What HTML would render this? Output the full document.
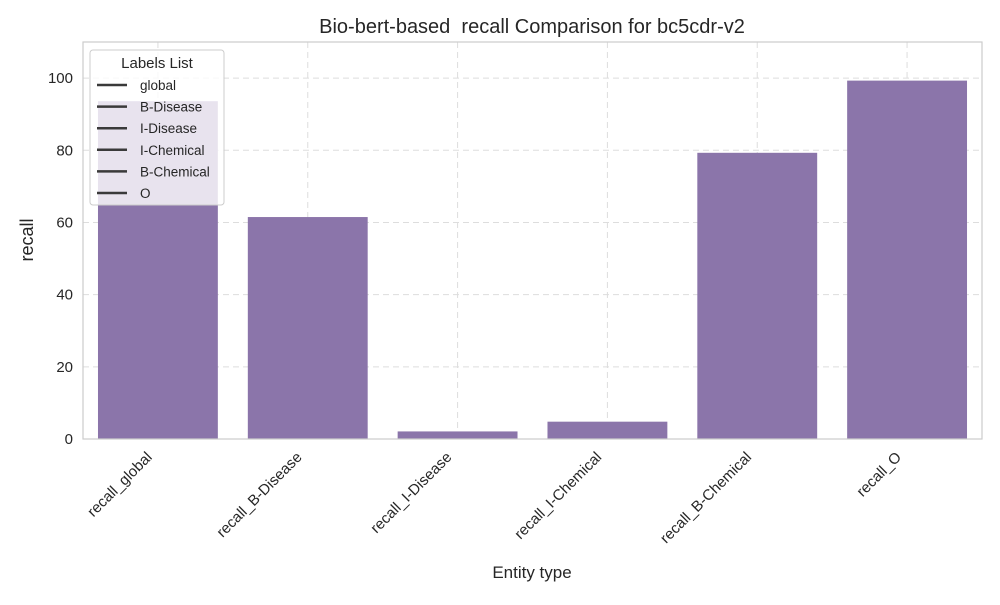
<!DOCTYPE html>
<html><head><meta charset="utf-8"><style>
body{margin:0;background:#fff;font-family:"Liberation Sans",sans-serif;}
svg text{font-family:"Liberation Sans",sans-serif;fill:#262626;}
</style></head><body>
<svg id="chart" width="1000" height="600">
<text x="532" y="33" font-size="20" text-anchor="middle">Bio-bert-based&#160; recall Comparison for bc5cdr-v2</text>
<g id="grid"></g><g id="bars"></g><g id="axes"></g>
<rect x="83" y="42" width="899" height="397" fill="none" stroke="#cccccc" stroke-width="1.2"/>
<text x="532" y="578" font-size="17" text-anchor="middle">Entity type</text>
<text transform="translate(33,240) rotate(-90)" font-size="18" text-anchor="middle">recall</text>
<g id="legend"></g>
</svg>
<script>
const categories=["recall_global","recall_B-Disease","recall_I-Disease","recall_I-Chemical","recall_B-Chemical","recall_O"];
const values=[93.6,61.5,2.1,4.8,79.3,99.3];
const yTicks=[0,20,40,60,80,100];
const legendLabels=["global","B-Disease","I-Disease","I-Chemical","B-Chemical","O"];
const NS="http://www.w3.org/2000/svg";
const L=83,R=982,T=42,B=439,YMAX=110;
const y=v=>B-(v/YMAX)*(B-T);
const band=(R-L)/categories.length;
const xc=i=>L+band*(i+0.5);
function mk(tag,attrs,parent,text){const e=document.createElementNS(NS,tag);for(const k in attrs)e.setAttribute(k,attrs[k]);if(text!==undefined)e.textContent=text;parent.appendChild(e);return e;}
const grid=document.getElementById('grid'),bars=document.getElementById('bars'),axes=document.getElementById('axes'),leg=document.getElementById('legend');
yTicks.forEach(t=>{
 const g=mk('line',{x1:L,x2:R,y1:y(t),y2:y(t),stroke:'#dddddd','stroke-dasharray':'6,4'},grid);
 
 
 const tx=mk('text',{x:L-10,y:y(t)+5,'font-size':15,'text-anchor':'end'},axes,String(t));
 
 
});
categories.forEach((c,i)=>{
 const g=mk('line',{x1:xc(i),x2:xc(i),y1:T,y2:B,stroke:'#dddddd','stroke-dasharray':'6,4'},grid);
 
 
 const w=band*0.8;
 const r=mk('rect',{x:xc(i)-w/2,y:y(values[i]),width:w,height:B-y(values[i]),fill:'#8b75aa'},bars);
 
 
 const ax=xc(i)-5,ay=B+19;
 const tx=mk('text',{x:ax,y:ay,'font-size':15,'text-anchor':'end',transform:`rotate(-45 ${ax} ${ay})`},axes,c);
 
 
});
const bx=mk('rect',{x:90,y:50,width:134,height:155,rx:3,fill:'#ffffff','fill-opacity':0.8,stroke:'#cccccc'},leg);


const lt=mk('text',{x:157,y:68,'font-size':15,'text-anchor':'middle'},leg,'Labels List');


legendLabels.forEach((l,i)=>{
 const yy=85+i*21.6;
 const ln=mk('line',{x1:97,x2:127,y1:yy,y2:yy,stroke:'#3a3a3a','stroke-width':2.5},leg);
 
 
 const t=mk('text',{x:140,y:yy+5,'font-size':13.5},leg,l);
 
 
});
</script>
</body></html>
